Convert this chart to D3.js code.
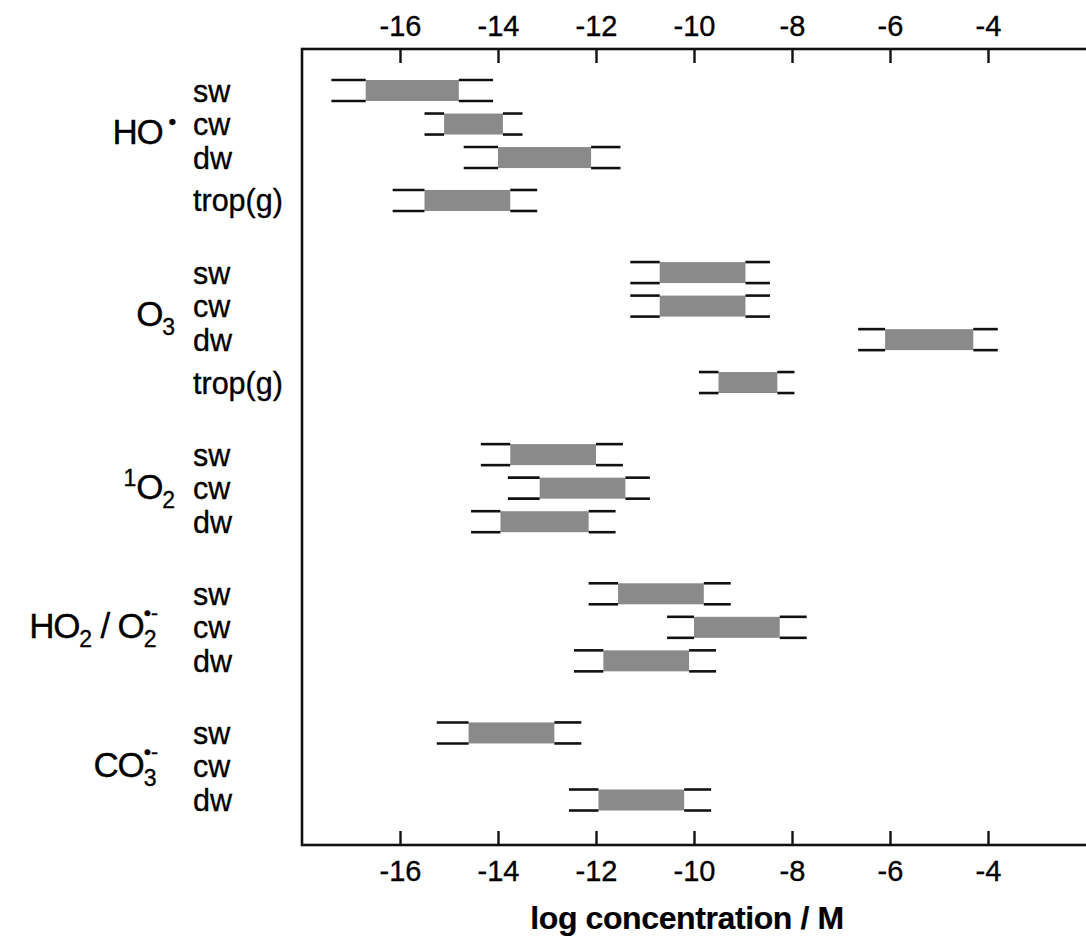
<!DOCTYPE html>
<html><head><meta charset="utf-8">
<script src="https://cdn.jsdelivr.net/npm/d3@7"></script>
<style>
html,body{margin:0;padding:0;background:#fff;}
svg{display:block;}
text{font-family:"Liberation Sans",Arial,Helvetica,sans-serif;fill:#000;stroke:#000;stroke-width:0.35px;}
</style></head><body>
<svg id="chart" width="1086" height="944"></svg>
<script>
// ---------- data ----------
const groups = ["HO•", "O3", "1O2", "HO2/O2•-", "CO3•-"];
const rowLabels = [
  ["sw", "cw", "dw", "trop(g)"],
  ["sw", "cw", "dw", "trop(g)"],
  ["sw", "cw", "dw"],
  ["sw", "cw", "dw"],
  ["sw", "cw", "dw"]
];
// each row: [range min, bar start, bar end, range max] in log M
const hoValues  = [[-17.4, -16.7, -14.8, -14.1], [-15.5, -15.1, -13.9, -13.5], [-14.7, -14.0, -12.1, -11.5], [-16.15, -15.5, -13.75, -13.2]];
const o3Values  = [[-11.3, -10.7, -8.95, -8.45], [-11.3, -10.7, -8.95, -8.45], [-6.65, -6.1, -4.3, -3.8], [-9.9, -9.5, -8.3, -7.95]];
const singletO2Values = [[-14.35, -13.75, -12.0, -11.45], [-13.8, -13.15, -11.4, -10.9], [-14.55, -13.95, -12.15, -11.6]];
const ho2Values = [[-12.15, -11.55, -9.8, -9.25], [-10.55, -10.0, -8.25, -7.7], [-12.45, -11.85, -10.1, -9.55]];
const co3Values = [[-15.25, -14.6, -12.85, -12.3], null, [-12.55, -11.95, -10.2, -9.65]];
const groupValues = [hoValues, o3Values, singletO2Values, ho2Values, co3Values];
const tickValues = [-16, -14, -12, -10, -8, -6, -4];
const xDomain = [-18, -2];
const xTitle = "log concentration / M";
// label pieces (normal / sub / sup / dot / stacked superscript)
const groupLabelParts = [
  [{t: "HO"}, {t: "•", k: "dot"}],
  [{t: "O"}, {t: "3", k: "sub"}],
  [{t: "1", k: "sup"}, {t: "O"}, {t: "2", k: "sub"}],
  [{t: "HO"}, {t: "2", k: "sub"}, {t: " / "}, {t: "O"}, {t: "2", k: "sub"}, {t: "•-", k: "stack"}],
  [{t: "CO"}, {t: "3", k: "sub"}, {t: "•-", k: "stack"}]
];

// ---------- layout ----------
const svg = d3.select("#chart");
const L = 302, R = 1086, T = 49, B = 845;
const x = d3.scaleLinear().domain(xDomain).range([L, R]);

const GAP = 2.15, EXTRA = 0.28;
let slot = 0;
const rows = [];
groups.forEach((g, gi) => {
  if (gi > 0) slot += GAP;
  rowLabels[gi].forEach((lab, ri) => {
    if (ri > 0) slot += 1;
    if (lab.startsWith("trop")) slot += EXTRA;
    rows.push({group: gi, label: lab, slot: slot, v: groupValues[gi][ri]});
  });
});
const y = d3.scaleLinear().domain([0, slot]).range([90.5, 800]);

// frame
svg.append("rect").attr("x", L).attr("y", T).attr("width", 1087.5 - L).attr("height", B - T)
  .attr("fill", "none").attr("stroke", "#111").attr("stroke-width", 2.6);

// axes
const topAxis = d3.axisTop(x).tickValues(tickValues).tickSize(-14).tickPadding(13).tickFormat(d3.format("d"));
const botAxis = d3.axisBottom(x).tickValues(tickValues).tickSize(-14).tickPadding(15).tickFormat(d3.format("d"));
function styleAxis(g) {
  g.select(".domain").remove();
  g.selectAll(".tick line").attr("stroke", "#111").attr("stroke-width", 2.4);
  g.selectAll(".tick text").attr("font-size", 29).attr("fill", "#000")
    .attr("font-family", "'Liberation Sans', Arial, sans-serif")
    .text(d => d < 0 ? "-" + Math.abs(d) : d);
}
svg.append("g").attr("transform", `translate(0,${T})`).call(topAxis).call(styleAxis);
svg.append("g").attr("transform", `translate(0,${B})`).call(botAxis).call(styleAxis);

// bars
const H = 10.5;
const bars = svg.append("g");
rows.filter(r => r.v).forEach(r => {
  const yc = y(r.slot);
  const [mn, lo, hi, mx] = r.v;
  bars.append("rect").attr("x", x(lo)).attr("y", yc - H).attr("width", x(hi) - x(lo)).attr("height", 2 * H)
    .attr("fill", "#8a8a8a");
  [yc - H, yc + H].forEach(yy => {
    bars.append("line").attr("x1", x(mn)).attr("x2", x(lo)).attr("y1", yy).attr("y2", yy)
      .attr("stroke", "#111").attr("stroke-width", 2.6);
    bars.append("line").attr("x1", x(hi)).attr("x2", x(mx)).attr("y1", yy).attr("y2", yy)
      .attr("stroke", "#111").attr("stroke-width", 2.6);
  });
});

// row labels
svg.append("g").selectAll("text").data(rows).join("text")
  .attr("x", 193).attr("y", d => y(d.slot) + 11)
  .attr("font-size", 30.5)
  .text(d => d.label);

// group labels
const shifts = {n: 0, sub: 9, sup: -13, dot: -15, stack: -18};
groups.forEach((g, gi) => {
  const gr = rows.filter(r => r.group === gi);
  const mean = d3.mean(gr, r => y(r.slot));
  const base = gr.length === 4 ? mean + 1 : mean + 11;
  const hasStack = groupLabelParts[gi].some(p => p.k === "stack");
  const t = svg.append("text").attr("x", hasStack ? 158 : 175).attr("y", base).attr("text-anchor", "end")
    .attr("font-size", 35).attr("letter-spacing", -1.2);
  let cur = 0;
  groupLabelParts[gi].forEach(p => {
    const k = p.k || "n";
    const s = shifts[k];
    const ts = t.append("tspan").attr("dy", s - cur).text(p.t);
    cur = s;
    if (k === "sub" || k === "sup") ts.attr("font-size", 23).attr("letter-spacing", 0);
    if (k === "dot") ts.attr("font-size", 22).attr("dx", 6);
    if (k === "stack") ts.attr("font-size", 21).attr("dx", -12.8).attr("letter-spacing", 0);
    if (k === "n" && p.t.includes("/")) ts.attr("xml:space", "preserve");
  });
});

// x title
svg.append("text").attr("x", 687).attr("y", 929).attr("text-anchor", "middle")
  .attr("font-size", 32).attr("font-weight", "bold").attr("letter-spacing", -0.4)
  .style("stroke-width", "0.2px")
  .text(xTitle);
</script>
</body></html>
